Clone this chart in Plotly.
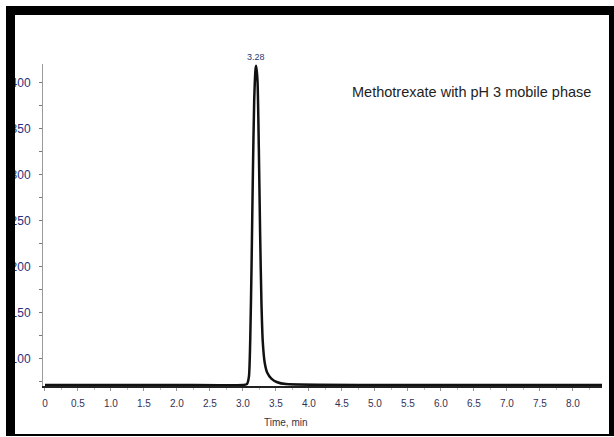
import plotly.graph_objects as go

# ---- data ----
time_min = [0.00, 1.00, 2.00, 3.00, 3.06, 3.09, 3.11, 3.13, 3.15, 3.17, 3.19, 3.20,
            3.22, 3.24, 3.26, 3.28, 3.30, 3.33, 3.37, 3.43, 3.52, 3.65, 5.00, 7.00, 8.44]
signal = [71, 71, 71, 71, 72, 80, 120, 200, 300, 380, 414, 418,
          402, 330, 235, 160, 118, 95, 84, 78, 74, 72, 71, 71, 71]

peak_time = 3.20
peak_label = "3.28"
chart_note = "Methotrexate with pH 3 mobile phase"
x_title = "Time, min"
x_ticks = [0, 0.5, 1.0, 1.5, 2.0, 2.5, 3.0, 3.5, 4.0, 4.5, 5.0, 5.5, 6.0, 6.5, 7.0, 7.5, 8.0]
x_tick_text = ["0", "0.5", "1.0", "1.5", "2.0", "2.5", "3.0", "3.5", "4.0", "4.5",
               "5.0", "5.5", "6.0", "6.5", "7.0", "7.5", "8.0"]
y_ticks = [100, 150, 200, 250, 300, 350, 400]

# ---- layout geometry (pixels) ----
W, H = 614, 437
L, R, T, B = 43, 602, 64, 386
PW, PH = R - L, B - T

def px(x):
    return (x - L) / PW

def py(y):
    return (B - y) / PH

FONT = "Liberation Sans, Arial, sans-serif"

fig = go.Figure()
fig.add_trace(go.Scatter(
    x=time_min, y=signal, mode="lines",
    line=dict(color="#111111", width=2.5, shape="spline", smoothing=0.6),
    cliponaxis=False, hoverinfo="skip", showlegend=False,
))
# injection marker on the left axis
fig.add_trace(go.Scatter(
    x=[-0.05], y=[90], mode="markers",
    marker=dict(symbol="triangle-right", size=7, color="#111111"),
    cliponaxis=False, hoverinfo="skip", showlegend=False,
))

fig.add_annotation(x=peak_time, y=418, text=peak_label, showarrow=False,
                   yshift=9, font=dict(family=FONT, size=9, color="#2a3a7a"))
fig.add_annotation(x=px(471), y=py(92), xref="paper", yref="paper",
                   xanchor="center", yanchor="middle", text=chart_note, showarrow=False,
                   font=dict(family=FONT, size=14.5, color="#1e1e1e"))
fig.add_annotation(x=3.65, y=py(422), xref="x", yref="paper",
                   xanchor="center", yanchor="middle", text=x_title, showarrow=False,
                   font=dict(family=FONT, size=10, color="#333344"))

# black scan frame
frame = [
    (6, 6, 614, 15),     # top
    (6, 6, 15, 436),     # left
    (609, 6, 614, 436),  # right
    (6, 434, 614, 436),  # bottom
]
for x0, y0, x1, y1 in frame:
    fig.add_shape(type="rect", xref="paper", yref="paper",
                  x0=px(x0), x1=px(x1), y0=py(y1), y1=py(y0),
                  fillcolor="black", line=dict(width=0), layer="above")

fig.update_layout(
    template="none",
    width=W, height=H,
    margin=dict(l=L, r=W - R, t=T, b=H - B, pad=0),
    paper_bgcolor="white", plot_bgcolor="white",
    showlegend=False,
    xaxis=dict(
        range=[-0.03, 8.44], showgrid=False, zeroline=False, automargin=False,
        showline=True, linecolor="#222222", linewidth=2,
        tickmode="array", tickvals=x_ticks, ticktext=x_tick_text,
        ticks="outside", ticklen=3, tickcolor="#999999", tickwidth=1,
        minor=dict(dtick=0.25, ticks="outside", ticklen=2, tickcolor="#bbbbbb"),
        tickfont=dict(family=FONT, size=10, color="#333355"),
        ticklabelstandoff=4,
    ),
    yaxis=dict(
        range=[69.9, 420], showgrid=False, zeroline=False, automargin=False,
        showline=True, linecolor="#9a9a9a", linewidth=1,
        tickmode="array", tickvals=y_ticks,
        ticks="outside", ticklen=3, tickcolor="#777777",
        minor=dict(dtick=25, ticks="outside", ticklen=3, tickcolor="#777777"),
        tickfont=dict(family=FONT, size=12, color="#2b2f80"),
        ticklabelstandoff=6,
    ),
)

fig.write_html("out.html", config={"displayModeBar": False},
               post_script="document.body.style.margin='0';")
